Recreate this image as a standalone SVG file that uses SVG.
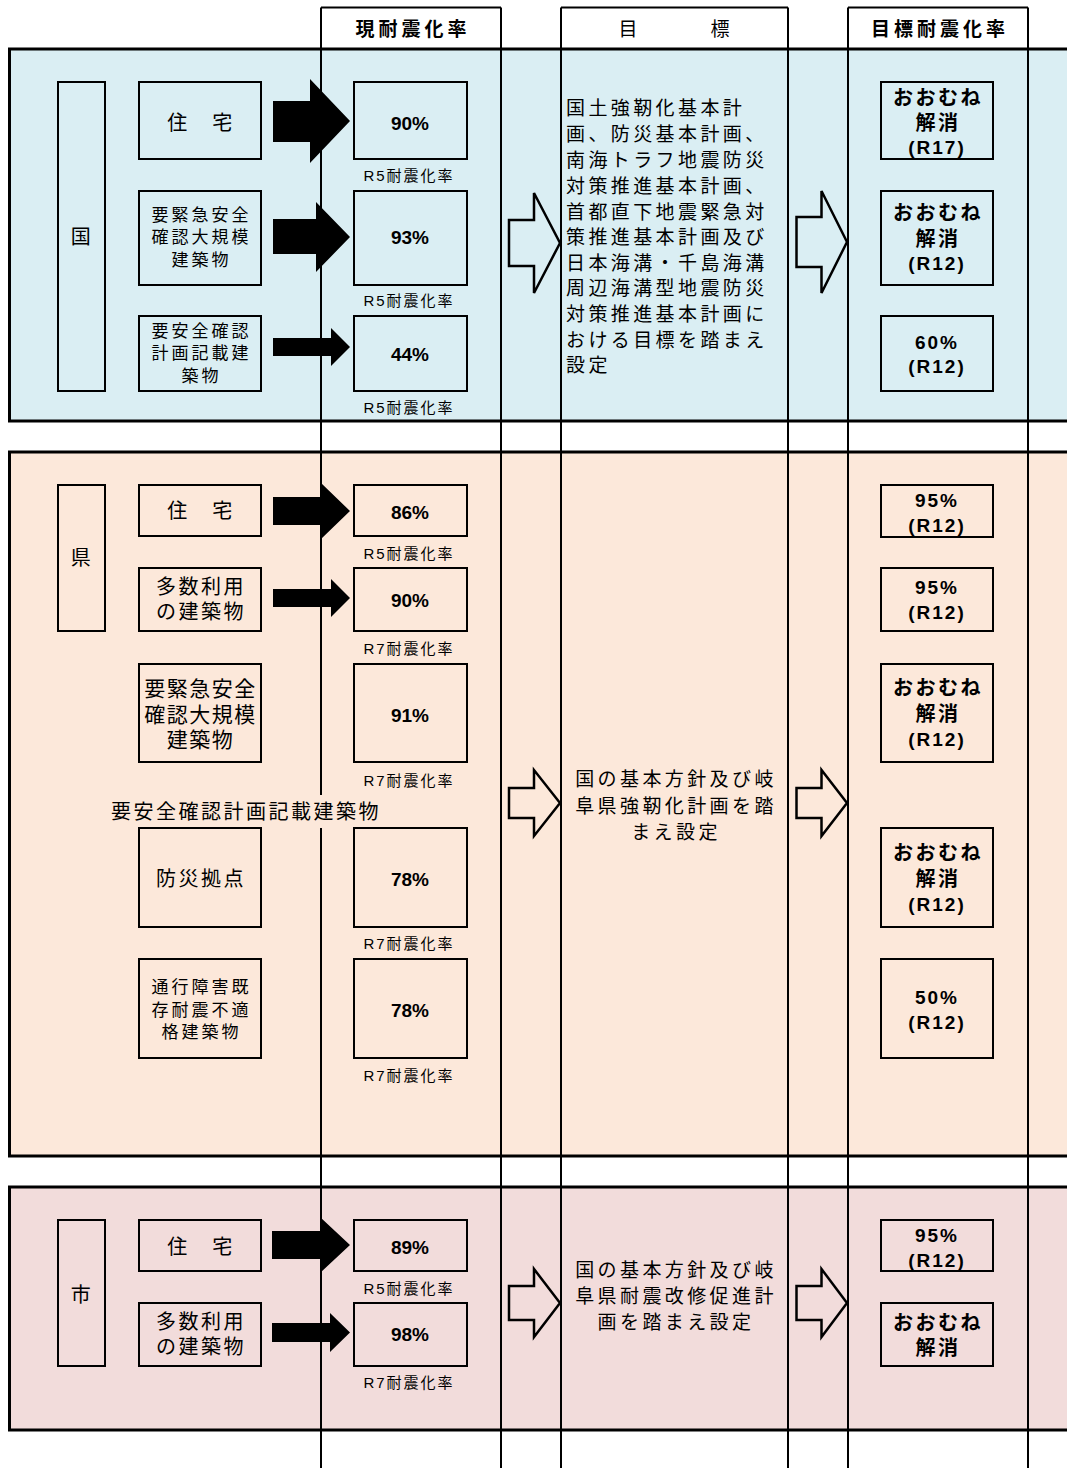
<svg xmlns="http://www.w3.org/2000/svg" width="1067" height="1468" viewBox="0 0 1067 1468">
<style>
.bg{fill:#fff}
.s1{fill:#DAEEF3;stroke:#000;stroke-width:3}
.s2{fill:#FCE8DA;stroke:#000;stroke-width:3}
.s3{fill:#F2DCDB;stroke:#000;stroke-width:3}
.vl{stroke:#000;stroke-width:2;fill:none}
.box{fill:none;stroke:#000;stroke-width:2}
.ha{fill:none;stroke:#000;stroke-width:2.5;stroke-linejoin:miter}
.ba{fill:#000}
text{font-family:"Liberation Sans","Noto Sans CJK JP",sans-serif;fill:#000;dominant-baseline:central;text-anchor:middle}
.h{font-size:19px;font-weight:bold;letter-spacing:4px}
.hn{font-size:19px}
.n17{font-size:17px;letter-spacing:3px}
.n20{font-size:20px;letter-spacing:2.5px}
.n21{font-size:21px;letter-spacing:1.5px}
.p{font-size:19px;font-weight:bold}
.r{font-size:15px;letter-spacing:2px}
.m{font-size:19px;letter-spacing:3.4px;text-anchor:start}
.mc{font-size:19px;letter-spacing:3.4px}
.g{font-size:20px;font-weight:bold;letter-spacing:2.5px}
.gr{font-size:19px;font-weight:bold;letter-spacing:2px}
</style>
<rect class="bg" x="0" y="0" width="1067" height="1468"/>
<g id="sections">
<rect class="s1" x="9.5" y="49" width="1070" height="372"/>
<rect class="s2" x="9.5" y="452" width="1070" height="704"/>
<rect class="s3" x="9.5" y="1187" width="1070" height="243"/>
</g>
<g id="grid">
<path class="vl" d="M321 7.5V795M321 828V1468M501 7.5V1468M561 7.5V1468M788 7.5V1468M848 7.5V1468M1028 7.5V1468"/>
<path class="vl" d="M321 7.5H501M561 7.5H788M848 7.5H1028"/>
</g>
<g id="header">
<text class="h" x="413" y="29">現耐震化率</text>
<text class="hn" x="628" y="29">目</text>
<text class="hn" x="720" y="29">標</text>
<text class="h" x="940" y="29">目標耐震化率</text>
</g>
<g id="sec1-nodes">
<g id="kuni"><rect class="box" x="58" y="82" width="47" height="309"/><text class="n20" x="82" y="237">国</text></g>
<g id="k-jutaku"><rect class="box" x="139" y="82" width="122" height="77"/><text class="n20" x="201" y="123">住　宅</text></g>
<g id="k-kinkyu"><rect class="box" x="139" y="191" width="122" height="94"/>
<text class="n17"><tspan x="201.5" y="215">要緊急安全</tspan><tspan x="201.5" y="237">確認大規模</tspan><tspan x="201.5" y="260">建築物</tspan></text></g>
<g id="k-anzen"><rect class="box" x="139" y="316" width="122" height="75"/>
<text class="n17"><tspan x="201.5" y="331">要安全確認</tspan><tspan x="201.5" y="353">計画記載建</tspan><tspan x="201.5" y="376">築物</tspan></text></g>
<g id="k-90"><rect class="box" x="354" y="82" width="113" height="77"/><text class="p" x="410" y="123">90%</text><text class="r" x="409" y="175">R5耐震化率</text></g>
<g id="k-93"><rect class="box" x="354" y="191" width="113" height="94"/><text class="p" x="410" y="237">93%</text><text class="r" x="409" y="300">R5耐震化率</text></g>
<g id="k-44"><rect class="box" x="354" y="316" width="113" height="75"/><text class="p" x="410" y="354">44%</text><text class="r" x="409" y="407">R5耐震化率</text></g>
<g id="k-text">
<text class="m"><tspan x="566" y="108">国土強靭化基本計</tspan><tspan x="566" y="134">画、防災基本計画、</tspan><tspan x="566" y="160">南海トラフ地震防災</tspan><tspan x="566" y="186">対策推進基本計画、</tspan><tspan x="566" y="212">首都直下地震緊急対</tspan><tspan x="566" y="237">策推進基本計画及び</tspan><tspan x="566" y="263">日本海溝・千島海溝</tspan><tspan x="566" y="288">周辺海溝型地震防災</tspan><tspan x="566" y="314">対策推進基本計画に</tspan><tspan x="566" y="340">おける目標を踏まえ</tspan><tspan x="566" y="365">設定</tspan></text>
</g>
<g id="k-t1"><rect class="box" x="881" y="82" width="112" height="77"/><text class="g"><tspan x="938" y="98">おおむね</tspan><tspan x="938" y="123">解消</tspan></text><text class="gr" x="937" y="147">(R17)</text></g>
<g id="k-t2"><rect class="box" x="881" y="191" width="112" height="94"/><text class="g"><tspan x="938" y="213">おおむね</tspan><tspan x="938" y="239">解消</tspan></text><text class="gr" x="937" y="263">(R12)</text></g>
<g id="k-t3"><rect class="box" x="881" y="316" width="112" height="75"/><text class="gr"><tspan x="937" y="342">60%</tspan><tspan x="937" y="366">(R12)</tspan></text></g>
</g>
<g id="sec2-nodes">
<g id="ken"><rect class="box" x="58" y="485" width="47" height="146"/><text class="n20" x="82" y="558">県</text></g>
<g id="p-jutaku"><rect class="box" x="139" y="485" width="122" height="51"/><text class="n20" x="201" y="511">住　宅</text></g>
<g id="p-tasu"><rect class="box" x="139" y="568" width="122" height="63"/><text class="n20"><tspan x="201" y="587">多数利用</tspan><tspan x="201" y="612">の建築物</tspan></text></g>
<g id="p-kinkyu"><rect class="box" x="139" y="664" width="122" height="98"/>
<text class="n21"><tspan x="200.5" y="688">要緊急安全</tspan><tspan x="200.5" y="714">確認大規模</tspan><tspan x="200.5" y="739">建築物</tspan></text></g>
<g id="p-label"><text class="n20" x="246" y="812">要安全確認計画記載建築物</text></g>
<g id="p-bosai"><rect class="box" x="139" y="828" width="122" height="99"/><text class="n20" x="201" y="879">防災拠点</text></g>
<g id="p-tsuko"><rect class="box" x="139" y="959" width="122" height="99"/>
<text class="n17"><tspan x="201.5" y="987">通行障害既</tspan><tspan x="201.5" y="1010">存耐震不適</tspan><tspan x="201.5" y="1032">格建築物</tspan></text></g>
<g id="p-86"><rect class="box" x="354" y="485" width="113" height="51"/><text class="p" x="410" y="512">86%</text><text class="r" x="409" y="553">R5耐震化率</text></g>
<g id="p-90"><rect class="box" x="354" y="568" width="113" height="63"/><text class="p" x="410" y="600">90%</text><text class="r" x="409" y="648">R7耐震化率</text></g>
<g id="p-91"><rect class="box" x="354" y="664" width="113" height="98"/><text class="p" x="410" y="715">91%</text><text class="r" x="409" y="780">R7耐震化率</text></g>
<g id="p-78a"><rect class="box" x="354" y="828" width="113" height="99"/><text class="p" x="410" y="879">78%</text><text class="r" x="409" y="943">R7耐震化率</text></g>
<g id="p-78b"><rect class="box" x="354" y="959" width="113" height="99"/><text class="p" x="410" y="1010">78%</text><text class="r" x="409" y="1075">R7耐震化率</text></g>
<g id="p-text">
<text class="mc"><tspan x="676" y="779">国の基本方針及び岐</tspan><tspan x="676" y="806">阜県強靭化計画を踏</tspan><tspan x="676" y="832">まえ設定</tspan></text>
</g>
<g id="p-t1"><rect class="box" x="881" y="485" width="112" height="52"/><text class="gr"><tspan x="937" y="500">95%</tspan><tspan x="937" y="525">(R12)</tspan></text></g>
<g id="p-t2"><rect class="box" x="881" y="568" width="112" height="63"/><text class="gr"><tspan x="937" y="587">95%</tspan><tspan x="937" y="612">(R12)</tspan></text></g>
<g id="p-t3"><rect class="box" x="881" y="664" width="112" height="98"/><text class="g"><tspan x="938" y="688">おおむね</tspan><tspan x="938" y="714">解消</tspan></text><text class="gr" x="937" y="739">(R12)</text></g>
<g id="p-t4"><rect class="box" x="881" y="828" width="112" height="99"/><text class="g"><tspan x="938" y="853">おおむね</tspan><tspan x="938" y="879">解消</tspan></text><text class="gr" x="937" y="904">(R12)</text></g>
<g id="p-t5"><rect class="box" x="881" y="959" width="112" height="99"/><text class="gr"><tspan x="937" y="997">50%</tspan><tspan x="937" y="1022">(R12)</tspan></text></g>
</g>
<g id="sec3-nodes">
<g id="shi"><rect class="box" x="58" y="1220" width="47" height="146"/><text class="n20" x="82" y="1295">市</text></g>
<g id="c-jutaku"><rect class="box" x="139" y="1220" width="122" height="51"/><text class="n20" x="201" y="1247">住　宅</text></g>
<g id="c-tasu"><rect class="box" x="139" y="1303" width="122" height="63"/><text class="n20"><tspan x="201" y="1322">多数利用</tspan><tspan x="201" y="1347">の建築物</tspan></text></g>
<g id="c-89"><rect class="box" x="354" y="1220" width="113" height="51"/><text class="p" x="410" y="1247">89%</text><text class="r" x="409" y="1288">R5耐震化率</text></g>
<g id="c-98"><rect class="box" x="354" y="1303" width="113" height="63"/><text class="p" x="410" y="1334">98%</text><text class="r" x="409" y="1382">R7耐震化率</text></g>
<g id="c-text">
<text class="mc"><tspan x="676" y="1270">国の基本方針及び岐</tspan><tspan x="676" y="1296">阜県耐震改修促進計</tspan><tspan x="676" y="1322">画を踏まえ設定</tspan></text>
</g>
<g id="c-t1"><rect class="box" x="881" y="1220" width="112" height="51"/><text class="gr"><tspan x="937" y="1235">95%</tspan><tspan x="937" y="1260">(R12)</tspan></text></g>
<g id="c-t2"><rect class="box" x="881" y="1303" width="112" height="63"/><text class="g"><tspan x="938" y="1323">おおむね</tspan><tspan x="938" y="1348">解消</tspan></text></g>
</g>
<g id="connectors">
<polygon class="ba" points="273,101 310,101 310,79 350,121 310,163 310,142 273,142"/>
<polygon class="ba" points="273,219 316,219 316,202 350,237 316,272 316,254 273,254"/>
<polygon class="ba" points="273,338 331,338 331,328 350,347 331,366 331,356 273,356"/>
<polygon class="ba" points="273,497 321,497 321,483 350,511 321,539 321,525 273,525"/>
<polygon class="ba" points="273,589 331,589 331,579 350,598 331,617 331,607 273,607"/>
<polygon class="ba" points="272,1231 320,1231 320,1217 350,1245 320,1273 320,1259 272,1259"/>
<polygon class="ba" points="272,1323 330,1323 330,1313 350,1332.5 330,1352 330,1342 272,1342"/>
<polygon class="ha" points="509,220 534,220 534,193 560,243 534,293 534,266 509,266"/>
<polygon class="ha" points="796.5,217 821.5,217 821.5,191 847,242 821.5,293 821.5,267 796.5,267"/>
<polygon class="ha" points="509,788 534,788 534,770 560,803 534,836 534,818 509,818"/>
<polygon class="ha" points="796.5,788 821.5,788 821.5,770 847,803 821.5,836 821.5,818 796.5,818"/>
<polygon class="ha" points="509,1286 534,1286 534,1269 560,1303 534,1337 534,1320 509,1320"/>
<polygon class="ha" points="796.5,1286 821.5,1286 821.5,1269 847,1303 821.5,1337 821.5,1320 796.5,1320"/>
</g>
</svg>
